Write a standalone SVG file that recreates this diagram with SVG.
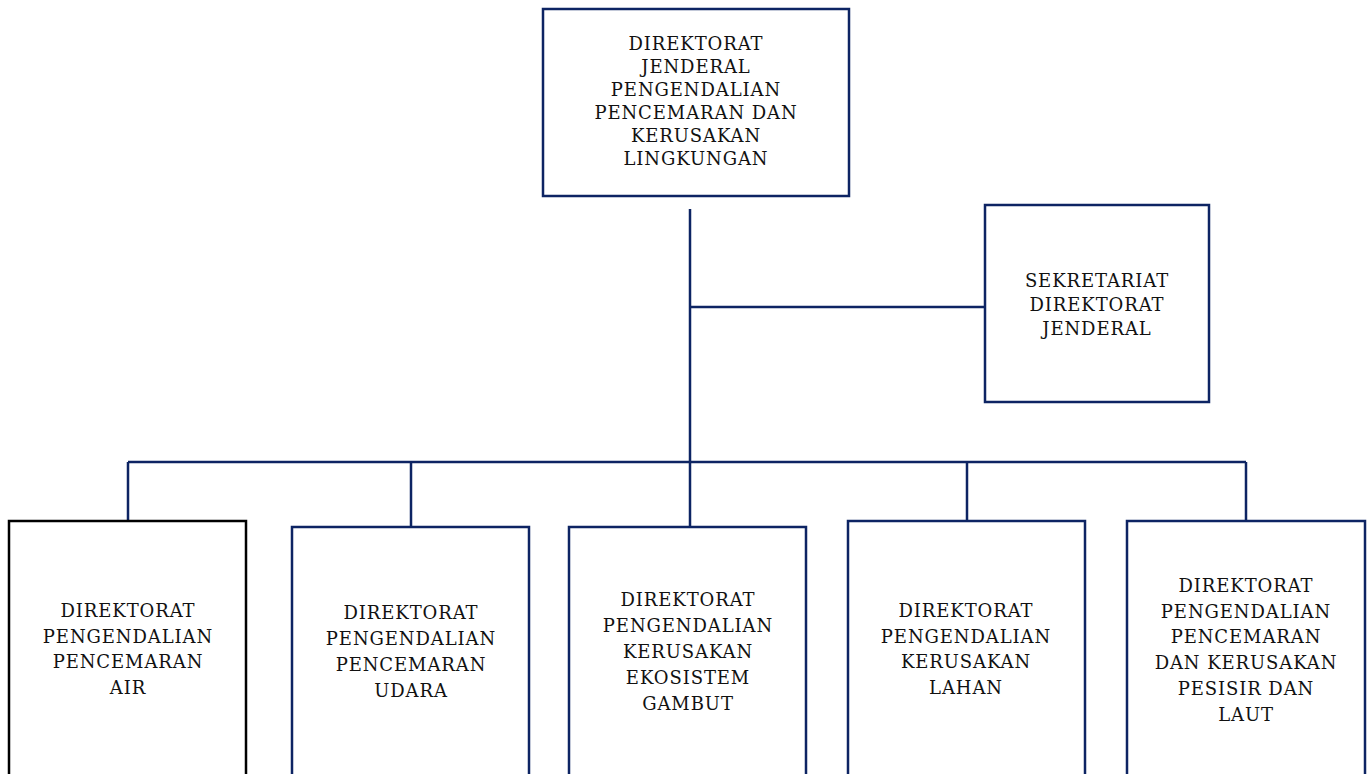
<svg xmlns="http://www.w3.org/2000/svg" width="1369" height="774" viewBox="0 0 1369 774">
<style>
.box{fill:#fff;stroke:#0d2463;stroke-width:2.5}
.blk{fill:#fff;stroke:#000;stroke-width:2.5}
.ln{stroke:#0d2463;stroke-width:2.5;fill:none}
text{font-family:"DejaVu Serif","Liberation Serif",serif;font-size:18px;letter-spacing:0.9px;fill:#111;text-anchor:middle}
</style>
<rect width="1369" height="774" fill="#fff"/>
<g id="connectors">
<path class="ln" d="M690 209V527M690 307H985M128 462H1246M128 462V521M411 462V527M967 462V521M1246 462V521"/>
</g>
<g id="top">
<rect class="box" x="543" y="9" width="306" height="187"/>
<text x="696"><tspan x="696" y="50">DIREKTORAT</tspan><tspan x="696" y="73">JENDERAL</tspan><tspan x="696" y="96">PENGENDALIAN</tspan><tspan x="696" y="119">PENCEMARAN DAN</tspan><tspan x="696" y="142">KERUSAKAN</tspan><tspan x="696" y="165">LINGKUNGAN</tspan></text>
</g>
<g id="sekretariat">
<rect class="box" x="985" y="205" width="224" height="197"/>
<text><tspan x="1097" y="287">SEKRETARIAT</tspan><tspan x="1097" y="311">DIREKTORAT</tspan><tspan x="1097" y="335">JENDERAL</tspan></text>
</g>
<g id="air">
<rect class="blk" x="9" y="521" width="237" height="270"/>
<text><tspan x="128" y="617">DIREKTORAT</tspan><tspan x="128" y="643">PENGENDALIAN</tspan><tspan x="128" y="668">PENCEMARAN</tspan><tspan x="128" y="694">AIR</tspan></text>
</g>
<g id="udara">
<rect class="box" x="292" y="527" width="237" height="270"/>
<text><tspan x="411" y="619">DIREKTORAT</tspan><tspan x="411" y="645">PENGENDALIAN</tspan><tspan x="411" y="671">PENCEMARAN</tspan><tspan x="411" y="697">UDARA</tspan></text>
</g>
<g id="gambut">
<rect class="box" x="569" y="527" width="237" height="270"/>
<text><tspan x="688" y="606">DIREKTORAT</tspan><tspan x="688" y="632">PENGENDALIAN</tspan><tspan x="688" y="658">KERUSAKAN</tspan><tspan x="688" y="684">EKOSISTEM</tspan><tspan x="688" y="710">GAMBUT</tspan></text>
</g>
<g id="lahan">
<rect class="box" x="848" y="521" width="237" height="270"/>
<text><tspan x="966" y="617">DIREKTORAT</tspan><tspan x="966" y="643">PENGENDALIAN</tspan><tspan x="966" y="668">KERUSAKAN</tspan><tspan x="966" y="694">LAHAN</tspan></text>
</g>
<g id="pesisir">
<rect class="box" x="1127" y="521" width="238" height="270"/>
<text><tspan x="1246" y="592">DIREKTORAT</tspan><tspan x="1246" y="618">PENGENDALIAN</tspan><tspan x="1246" y="643">PENCEMARAN</tspan><tspan x="1246" y="669">DAN KERUSAKAN</tspan><tspan x="1246" y="695">PESISIR DAN</tspan><tspan x="1246" y="721">LAUT</tspan></text>
</g>
</svg>
